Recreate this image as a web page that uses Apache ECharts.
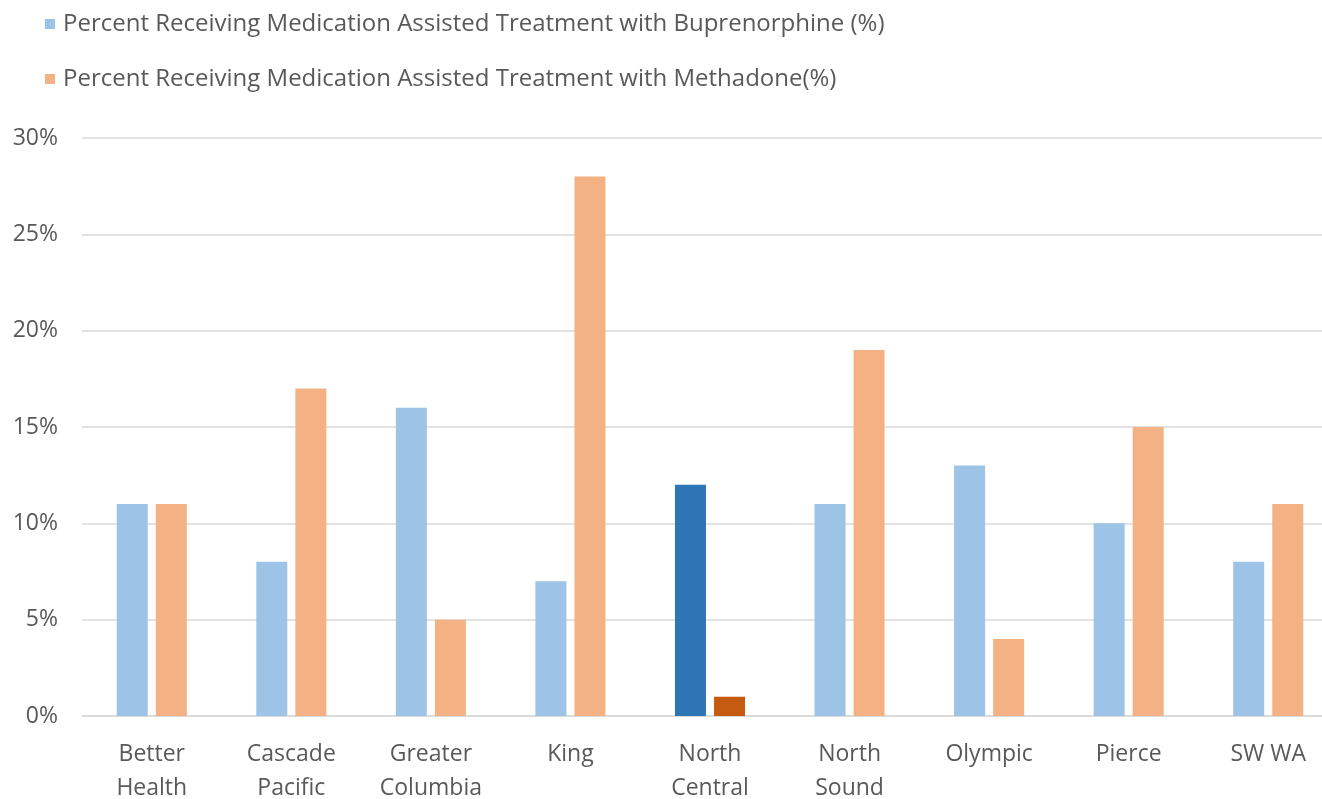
<!DOCTYPE html>
<html>
<head>
<meta charset="utf-8">
<script src="https://cdn.jsdelivr.net/npm/echarts@6/dist/echarts.min.js"></script>
<style>
html,body{margin:0;padding:0;background:#fff;}
#main{width:1322px;height:799px;}
</style>
</head>
<body>
<div id="main"></div>
<script>
const categories = ['Better\nHealth','Cascade\nPacific','Greater\nColumbia','King','North\nCentral','North\nSound','Olympic','Pierce','SW WA'];
const buprenorphine = [11, 8, 16, 7, 12, 11, 13, 10, 8];
const methadone = [11, 17, 5, 28, 1, 19, 4, 15, 11];
const yTicks = [0, 5, 10, 15, 20, 25, 30];
const seriesNames = ['Percent Receiving Medication Assisted Treatment with Buprenorphine (%)','Percent Receiving Medication Assisted Treatment with Methadone(%)'];
const highlightIndex = 4;

const FONT = '"Open Sans", "Noto Sans", sans-serif';
const chart = echarts.init(document.getElementById('main'));
function build(vals, hi) {
  return vals.map((v, i) => i === highlightIndex ? {value: v, itemStyle: {color: hi}} : v);
}
chart.setOption({
  animation: false,
  backgroundColor: '#fff',
  legend: {
    orient: 'vertical', left: 40, top: 7, itemGap: 31,
    itemWidth: 10, itemHeight: 10, icon: 'rect',
    textStyle: {fontFamily: FONT, fontSize: 24, color: '#595959', padding: [0,0,0,3]},
    data: seriesNames
  },
  grid: {left: 82, right: -16, top: 138, bottom: 83, outerBoundsMode: 'none', containLabel: false},
  xAxis: {
    type: 'category', data: categories,
    axisLine: {lineStyle: {color: '#D9D9D9', width: 1.5}},
    axisTick: {show: false},
    axisLabel: {fontFamily: FONT, fontSize: 23, color: '#595959', margin: 21, lineHeight: 34}
  },
  yAxis: {
    type: 'value', min: yTicks[0], max: yTicks[yTicks.length-1], interval: 5,
    axisLine: {show: false}, axisTick: {show: false},
    splitLine: {lineStyle: {color: '#D9D9D9', width: 1.5}},
    axisLabel: {fontFamily: FONT, fontSize: 23, color: '#595959', margin: 24, formatter: v => v + '%'}
  },
  series: [
    {name: seriesNames[0], type: 'bar', barWidth: 31, barGap: '26%', itemStyle: {color: '#9DC3E6'}, data: build(buprenorphine, '#2E75B6')},
    {name: seriesNames[1], type: 'bar', barWidth: 31, itemStyle: {color: '#F4B183'}, data: build(methadone, '#C55A11')}
  ]
});
</script>
</body>
</html>
